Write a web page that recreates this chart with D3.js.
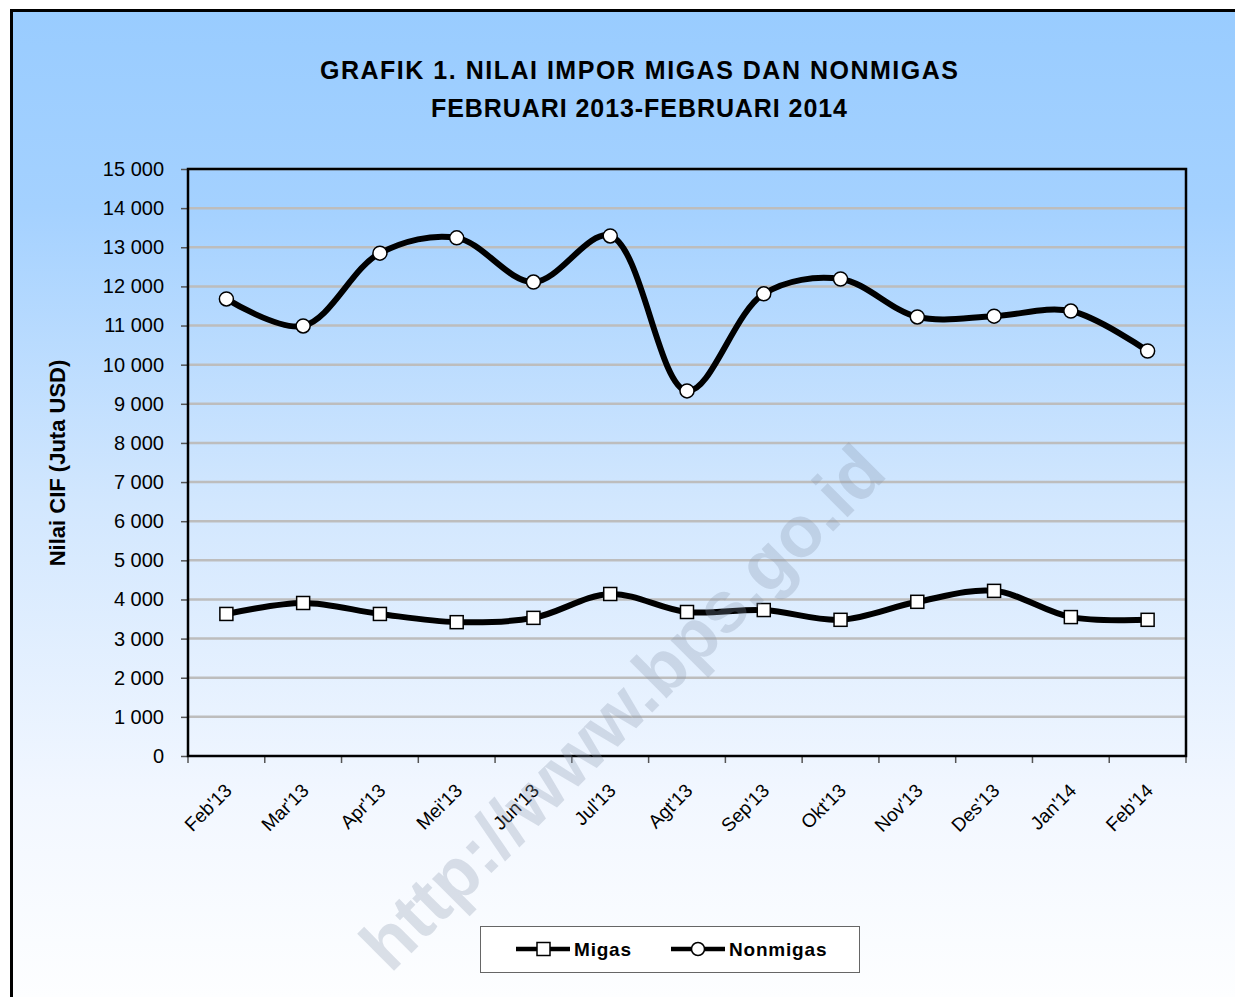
<!DOCTYPE html>
<html>
<head>
<meta charset="utf-8">
<script src="https://cdn.jsdelivr.net/npm/d3@7"></script>
<style>
    body { margin: 0; background: #ffffff; }
    svg { display: block; font-family: 'Liberation Sans', Arial, sans-serif; }
</style>
</head>
<body>
<div id="chart"></div>
<script>
// Chart data
const months = ["Feb'13", "Mar'13", "Apr'13", "Mei'13", "Jun'13", "Jul'13", "Agt'13",
    "Sep'13", "Okt'13", "Nov'13", "Des'13", "Jan'14", "Feb'14"];
const migas = [3630, 3910, 3630, 3420, 3530, 4140, 3680, 3730, 3480, 3940, 4220, 3550, 3480];
const nonmigas = [11680, 10990, 12850, 13240, 12110, 13290, 9330, 11810, 12190, 11220, 11240, 11370, 10350];
const yTicks = [0, 1000, 2000, 3000, 4000, 5000, 6000, 7000, 8000, 9000, 10000, 11000, 12000, 13000, 14000, 15000];
const titleLines = ['GRAFIK 1. NILAI IMPOR MIGAS DAN NONMIGAS', 'FEBRUARI 2013-FEBRUARI 2014'];

// Margin convention around the plot area
let W = 1235,
    H = 997,
    margin = {top: 169, left: 188, right: 49, bottom: 241},
    width = W - margin.left - margin.right,
    height = H - margin.top - margin.bottom;

let svg = d3.select('#chart')
    .append('svg')
    .attr('width', W)
    .attr('height', H);

// Background gradient, blue at the top fading to white
let defs = svg.append('defs');
let grad = defs.append('linearGradient')
    .attr('id', 'bg')
    .attr('gradientUnits', 'userSpaceOnUse')
    .attr('x1', 0).attr('y1', 9)
    .attr('x2', 0).attr('y2', 997);
[[0, '#99ccff'], [0.2, '#a4d1ff'], [0.5, '#d2e7fe'], [0.8, '#f2f7ff'], [1, '#fdfeff']]
    .forEach(s => grad.append('stop').attr('offset', s[0]).attr('stop-color', s[1]));

svg.append('rect')
    .attr('x', 11.5).attr('y', 10.5)
    .attr('width', W + 10).attr('height', H + 10)
    .attr('fill', 'url(#bg)')
    .attr('stroke', '#000')
    .attr('stroke-width', 3);

// Title, stretched to the width of the original
let titleWidths = [638, 416];
svg.append('g')
    .selectAll('text')
    .data(titleLines)
    .enter().append('text')
    .attr('x', 639)
    .attr('y', (d, i) => 79 + i * 38)
    .attr('text-anchor', 'middle')
    .attr('textLength', (d, i) => titleWidths[i])
    .attr('lengthAdjust', 'spacing')
    .style('font-size', '25px')
    .style('font-weight', 'bold')
    .text(d => d);

let g = svg.append('g')
    .attr('transform', 'translate(' + margin.left + ',' + margin.top + ')');

let xScale = d3.scaleBand()
    .domain(months)
    .range([0, width]);

let yScale = d3.scaleLinear()
    .domain([0, 15000])
    .range([height, 0]);

// Gridlines
g.append('g')
    .selectAll('line')
    .data(yTicks.slice(1))
    .enter().append('line')
    .attr('x1', 0).attr('x2', width)
    .attr('y1', d => yScale(d)).attr('y2', d => yScale(d))
    .attr('stroke', '#bdbdbd')
    .attr('stroke-width', 2.5);

// Watermark
svg.append('text')
    .attr('transform', 'translate(622,707) rotate(-45)')
    .attr('text-anchor', 'middle')
    .attr('dy', '0.35em')
    .style('font-size', '72px')
    .style('font-weight', 'bold')
    .style('fill', '#8494a8')
    .style('fill-opacity', 0.28)
    .text('http://www.bps.go.id');

// Y axis
let yAxis = g.append('g')
    .call(d3.axisLeft(yScale)
        .tickValues(yTicks)
        .tickSize(7)
        .tickPadding(17)
        .tickFormat(d => d3.format(',')(d).replace(',', ' ')));
yAxis.select('.domain').remove();
yAxis.selectAll('.tick line').attr('stroke', '#555').attr('stroke-width', 1.5);
yAxis.selectAll('.tick text')
    .attr('fill', '#000')
    .style('font-size', '20px')
    .style('font-family', "'Liberation Sans', Arial, sans-serif");

yAxis.append('text')
    .attr('transform', 'rotate(-90)')
    .attr('x', -(463 - margin.top))
    .attr('y', -(margin.left - 65))
    .attr('text-anchor', 'middle')
    .attr('fill', '#000')
    .style('font-size', '22px')
    .style('font-weight', 'bold')
    .style('font-family', "'Liberation Sans', Arial, sans-serif")
    .text('Nilai CIF (Juta USD)');

// X axis: ticks sit on the band boundaries, labels on the centres
let xAxis = g.append('g')
    .attr('transform', 'translate(0,' + height + ')');
xAxis.selectAll('line')
    .data(d3.range(months.length + 1))
    .enter().append('line')
    .attr('x1', i => i * xScale.step()).attr('x2', i => i * xScale.step())
    .attr('y1', 0).attr('y2', 7)
    .attr('stroke', '#555')
    .attr('stroke-width', 1.5);
xAxis.selectAll('text')
    .data(months)
    .enter().append('text')
    .attr('transform', d => 'translate(' + (xScale(d) + xScale.bandwidth() / 2 + 2) + ',31) rotate(-45)')
    .attr('text-anchor', 'end')
    .attr('dy', '0.35em')
    .style('font-size', '19px')
    .text(d => d);

// Plot frame
g.append('rect')
    .attr('x', 0).attr('y', 0)
    .attr('width', width).attr('height', height)
    .attr('fill', 'none')
    .attr('stroke', '#000')
    .attr('stroke-width', 2.5);

let X = (d, i) => xScale(months[i]) + xScale.bandwidth() / 2;

let line = d3.line()
    .x((d, i) => X(d, i))
    .y(d => yScale(d))
    .curve(d3.curveCatmullRom.alpha(0.5));

[migas, nonmigas].forEach(series => {
    g.append('path')
        .datum(series)
        .attr('d', line)
        .attr('fill', 'none')
        .attr('stroke', '#000')
        .attr('stroke-width', 6)
        .attr('stroke-linejoin', 'round');
});

// Markers
g.append('g')
    .selectAll('rect')
    .data(migas)
    .enter().append('rect')
    .attr('x', (d, i) => X(d, i) - 6.5)
    .attr('y', d => yScale(d) - 6.5)
    .attr('width', 13).attr('height', 13)
    .attr('fill', '#fff')
    .attr('stroke', '#000')
    .attr('stroke-width', 1.5);

g.append('g')
    .selectAll('circle')
    .data(nonmigas)
    .enter().append('circle')
    .attr('cx', (d, i) => X(d, i))
    .attr('cy', d => yScale(d))
    .attr('r', 7)
    .attr('fill', '#fff')
    .attr('stroke', '#000')
    .attr('stroke-width', 1.5);

// Legend
let legend = svg.append('g')
    .attr('transform', 'translate(480,926)');
legend.append('rect')
    .attr('x', 0.5).attr('y', 0.5)
    .attr('width', 379).attr('height', 46)
    .attr('fill', '#fff')
    .attr('stroke', '#666')
    .attr('stroke-width', 1);

let legendItems = [
    {name: 'Migas', x: 36, shape: 'square'},
    {name: 'Nonmigas', x: 191, shape: 'circle'}
];
legendItems.forEach(it => {
    let item = legend.append('g').attr('transform', 'translate(' + it.x + ',23)');
    item.append('line')
        .attr('x1', 0).attr('x2', 54)
        .attr('stroke', '#000')
        .attr('stroke-width', 4.5);
    if (it.shape === 'square') {
        item.append('rect')
            .attr('x', 21).attr('y', -6.5)
            .attr('width', 13).attr('height', 13)
            .attr('fill', '#fff').attr('stroke', '#000').attr('stroke-width', 1.5);
    } else {
        item.append('circle')
            .attr('cx', 27).attr('r', 6.5)
            .attr('fill', '#fff').attr('stroke', '#000').attr('stroke-width', 1.5);
    }
    item.append('text')
        .attr('x', 58)
        .attr('dy', '0.35em')
        .style('font-size', '19px')
        .style('font-weight', 'bold')
        .style('letter-spacing', '0.8px')
        .text(it.name);
});
</script>
</body>
</html>
